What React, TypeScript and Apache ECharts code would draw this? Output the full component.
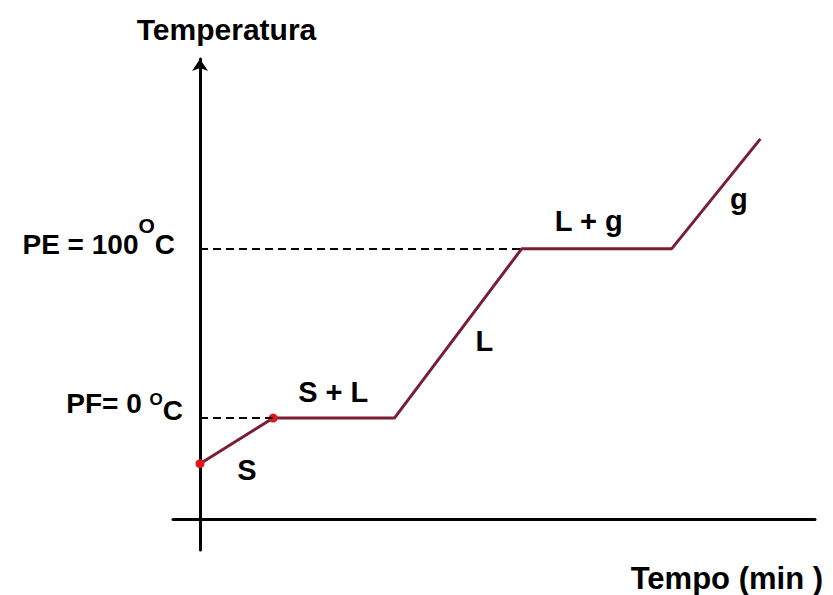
import React, { useEffect, useRef } from 'react';
import * as echarts from 'echarts';

// Heating curve data (time in minutes, temperature in °C)
const timeMin = [0, 6.1, 16.2, 26.8, 39.3, 46.7];
const temperatureC = [-27, 0, 0, 100, 100, 165];
const markedPointIdx = [0, 1];

// Phase annotations (anchor in data units)
const phaseLabels = ['S', 'S + L', 'L', 'L + g', 'g'];
const phaseLabelTime = [3.9, 11.1, 23.7, 32.4, 44.9];
const phaseLabelTemp = [-31, 15.6, 45.7, 116.6, 129.4];

// Y tick labels
const yTickValues = [0, 100];
const xAxisName = 'Tempo (min )';
const yAxisName = 'Temperatura';
const xRange = [-2.25, 51.25];
const yRange = [-78, 211];

const FONT = "'Liberation Sans', Arial, sans-serif";

export default function App() {
  const ref = useRef<HTMLDivElement>(null);
  useEffect(() => {
    if (!ref.current) return;
    const chart = echarts.init(ref.current, null, { renderer: 'svg' });
    const tok = (fontSize: number, lineHeight: number, padding: number[]) => ({
      fontSize, lineHeight, padding, fontFamily: FONT, fontWeight: 'bold', color: '#000',
    });
    chart.setOption({
      animation: false,
      backgroundColor: '#fff',
      grid: { left: 173, right: 18, top: 59, bottom: 45, outerBoundsMode: 'none' },
      xAxis: {
        type: 'value',
        min: xRange[0],
        max: xRange[1],
        position: 'bottom',
        offset: -31,
        axisLine: { onZero: false, lineStyle: { color: '#000', width: 3 } },
        axisTick: { show: false },
        axisLabel: { show: false },
        splitLine: { show: false },
        name: xAxisName,
        nameLocation: 'end',
        nameGap: 8,
        nameTextStyle: {
          fontFamily: FONT, fontWeight: 'bold', fontSize: 31, color: '#000',
          align: 'right', verticalAlign: 'top', padding: [44, 0, 0, 0],
        },
      },
      yAxis: {
        type: 'value',
        min: yRange[0],
        max: yRange[1] + 1.2,
        position: 'left',
        offset: -27,
        axisLine: {
          onZero: false,
          symbol: ['none', 'arrow'],
          symbolSize: [12, 12],
          lineStyle: { color: '#000', width: 3 },
        },
        axisTick: { show: false },
        splitLine: { show: false },
        axisLabel: {
          customValues: yTickValues,
          margin: 17,
          formatter: (v: number) =>
            v === 100 ? '{pa|PE = 100}{po|O}{pc|C}' : '{fa|PF= 0 }{fo|O}{fc|C}',
          rich: {
            pa: tok(28, 30, [0, 0, 8, 0]),
            po: tok(21, 21, [0, 0, 46, 0]),
            pc: tok(28, 30, [0, 8, 8, 0]),
            fa: tok(28, 30, [0, 0, 30, 0]),
            fo: tok(17, 17, [0, 0, 38, 0]),
            fc: tok(28, 30, [0, 0, 16, 0]),
          },
        },
        name: yAxisName,
        nameLocation: 'end',
        nameGap: 15,
        nameTextStyle: {
          fontFamily: FONT, fontWeight: 'bold', fontSize: 30, color: '#000',
          padding: [0, 0, 0, 53],
        },
      },
      series: [
        {
          type: 'line',
          data: timeMin.map((t, i) => [t, temperatureC[i]]),
          symbol: 'circle',
          symbolSize: (_v: any, p: any) => (markedPointIdx.includes(p.dataIndex) ? 9 : 0),
          itemStyle: { color: '#e0141e', opacity: 1 },
          lineStyle: { color: '#7a1f33', width: 3 },
          silent: true,
          z: 3,
          markLine: {
            silent: true,
            symbol: ['none', 'none'],
            label: { show: false },
            lineStyle: { color: '#000', type: [8, 5], width: 2 },
            data: [
              [{ coord: [0, temperatureC[3]] }, { coord: [timeMin[3], temperatureC[3]] }],
              [{ coord: [0, temperatureC[1]] }, { coord: [timeMin[1], temperatureC[1]] }],
            ],
          },
        },
        {
          type: 'scatter',
          silent: true,
          symbolSize: 1,
          itemStyle: { color: '#fff', opacity: 1 },
          data: phaseLabels.map((l, i) => [phaseLabelTime[i], phaseLabelTemp[i], l]),
          label: {
            show: true,
            position: 'inside',
            formatter: (p: any) => p.data[2],
            fontFamily: FONT,
            fontWeight: 'bold',
            fontSize: 29,
            color: '#000',
            opacity: 1,
            textBorderWidth: 0,
          },
        },
      ],
    });
    return () => chart.dispose();
  }, []);
  return (
    <div
      ref={ref}
      style={{ position: 'fixed', left: 0, top: 0, width: 833, height: 595, background: '#fff' }}
    />
  );
}
